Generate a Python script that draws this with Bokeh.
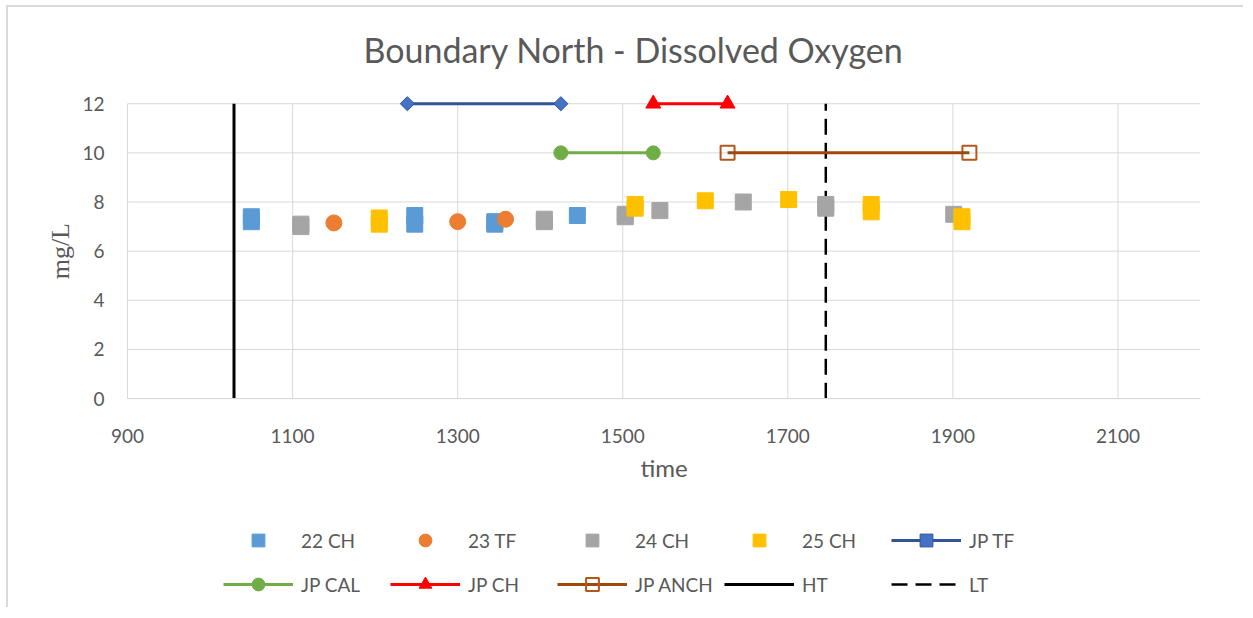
import math
from bokeh.plotting import figure
from bokeh.models import Range1d, FixedTicker, Legend, LegendItem, Label
from bokeh.embed import file_html
from bokeh.resources import INLINE

# ---- data ----
x22 = [1050, 1050, 1248, 1248, 1345, 1345, 1445]
y22 = [7.2, 7.4, 7.1, 7.45, 7.1, 7.2, 7.45]
x23 = [1150, 1300, 1358]
y23 = [7.15, 7.2, 7.3]
x24 = [1110, 1110, 1405, 1405, 1503, 1503, 1545, 1646, 1746, 1746, 1901]
y24 = [7.0, 7.1, 7.2, 7.3, 7.4, 7.5, 7.65, 8.0, 7.75, 7.9, 7.5]
x25 = [1205, 1205, 1515, 1515, 1600, 1701, 1801, 1801, 1911, 1911]
y25 = [7.1, 7.35, 7.75, 7.9, 8.05, 8.1, 7.6, 7.9, 7.2, 7.4]
jp_tf_x = [1239, 1425]
jp_tf_y = [12, 12]
jp_cal_x = [1425, 1537]
jp_cal_y = [10, 10]
jp_ch_x = [1537, 1627]
jp_ch_y = [12, 12]
jp_anch_x = [1627, 1920]
jp_anch_y = [10, 10]
ht_x = [1029, 1029]
ht_y = [0, 12]
lt_x = [1746, 1746]
lt_y = [0, 12]
x_ticks = [900, 1100, 1300, 1500, 1700, 1900, 2100]
y_ticks = [0, 2, 4, 6, 8, 10, 12]
X_MIN, X_MAX = 900, 2200

FONT = "Lato"
GREY = "#595959"
GRID = "#d9d9d9"

# the frame is enlarged (left and below) so that the axes, their labels and
# the legend are drawn inside it; the value area itself is 900..2200 x 0..12
p = figure(width=1237, height=602, output_backend="svg", toolbar_location=None,
           x_range=Range1d(780, X_MAX), y_range=Range1d(-8.58, 12.7),
           min_border_left=20, min_border_right=45, min_border_top=79,
           min_border_bottom=0)
p.styles = {"margin-left": "6px", "margin-top": "5px",
            "border-left": "2px solid #d9d9d9", "border-top": "2px solid #d9d9d9"}
p.outline_line_color = None
p.background_fill_color = "white"
p.border_fill_color = "white"

p.title.text = "Boundary North - Dissolved Oxygen"
p.title.align = "left"
p.title.text_font = FONT
p.title.text_font_size = "34px"
p.title.text_font_style = "normal"
p.title.text_color = GREY
p.title.offset = 335
p.title.standoff = 33

for ax in (p.xaxis[0], p.yaxis[0]):
    ax.major_tick_line_color = None
    ax.minor_tick_line_color = None
    ax.major_tick_out = 0
    ax.major_tick_in = 0
    ax.minor_tick_out = 0
    ax.minor_tick_in = 0
    ax.major_label_text_font = FONT
    ax.major_label_text_font_size = "19px"
    ax.major_label_text_color = GREY

p.xaxis.fixed_location = y_ticks[0]
p.xaxis.bounds = (X_MIN, X_MAX)
p.xaxis.axis_line_color = GRID
p.yaxis.fixed_location = X_MIN
p.yaxis.bounds = (y_ticks[0], y_ticks[-1])
p.yaxis.axis_line_color = None

p.xaxis.ticker = FixedTicker(ticks=x_ticks)
p.yaxis.ticker = FixedTicker(ticks=y_ticks)
p.xaxis.major_label_standoff = 30
p.yaxis.major_label_standoff = 23
p.xaxis.axis_label = "time"
p.xaxis.axis_label_text_font = FONT
p.xaxis.axis_label_text_font_size = "24px"
p.xaxis.axis_label_text_font_style = "normal"
p.xaxis.axis_label_text_color = GREY
p.xaxis.axis_label_standoff = 7

p.add_layout(Label(x=819, y=(y_ticks[0] + y_ticks[-1]) / 2, text="mg/L",
                   angle=math.pi / 2, text_align="center", text_baseline="middle",
                   text_font="Liberation Serif", text_font_size="26px",
                   text_color=GREY))

# grid lines limited to the value area
p.xgrid.grid_line_color = None
p.ygrid.grid_line_color = None
p.segment(x0=x_ticks, y0=[y_ticks[0]] * len(x_ticks),
          x1=x_ticks, y1=[y_ticks[-1]] * len(x_ticks),
          line_color=GRID, line_width=1)
p.segment(x0=[X_MIN] * len(y_ticks), y0=y_ticks,
          x1=[X_MAX] * len(y_ticks), y1=y_ticks,
          line_color=GRID, line_width=1)

# tide lines (beneath markers)
r_ht = p.line(ht_x, ht_y, line_color="black", line_width=3)
r_lt = p.line(lt_x, lt_y, line_color="black", line_width=2.5, line_dash="16 8")

# scatter series
r22 = p.scatter(x22, y22, marker="square", size=16, fill_color="#5B9BD5", line_color="#5B9BD5")
r23 = p.scatter(x23, y23, marker="circle", size=16, fill_color="#ED7D31", line_color="#ED7D31")
r24 = p.scatter(x24, y24, marker="square", size=16, fill_color="#A5A5A5", line_color="#A5A5A5")
r25 = p.scatter(x25, y25, marker="square", size=16, fill_color="#FFC000", line_color="#FFC000")

# JP lines
l_tf = p.line(jp_tf_x, jp_tf_y, line_color="#2F5597", line_width=3)
m_tf = p.scatter(jp_tf_x, jp_tf_y, marker="square", angle=math.pi / 4, size=10,
                 fill_color="#4472C4", line_color="#2F5597")
l_cal = p.line(jp_cal_x, jp_cal_y, line_color="#70AD47", line_width=3)
m_cal = p.scatter(jp_cal_x, jp_cal_y, marker="circle", size=14,
                  fill_color="#70AD47", line_color="#70AD47")
l_ch = p.line(jp_ch_x, jp_ch_y, line_color="#FF0000", line_width=3)
m_ch = p.scatter(jp_ch_x, jp_ch_y, marker="triangle", size=15,
                 fill_color="#FF0000", line_color="#FF0000")
m_anch = p.scatter(jp_anch_x, jp_anch_y, marker="square", size=14,
                   fill_alpha=0, line_color="#B5561A", line_width=2)
l_anch = p.line(jp_anch_x, jp_anch_y, line_color="#9E480E", line_width=3)


def make_legend(items, y):
    lg = Legend(items=items, orientation="horizontal", location=(195, y),
                glyph_width=70, glyph_height=32, label_height=32,
                label_standoff=8, label_width=81, spacing=8,
                padding=0, margin=0, border_line_color=None,
                background_fill_alpha=0,
                label_text_font=FONT, label_text_font_size="19px",
                label_text_color=GREY)
    p.add_layout(lg, "center")


make_legend([
    LegendItem(label="22 CH", renderers=[r22]),
    LegendItem(label="23 TF", renderers=[r23]),
    LegendItem(label="24 CH", renderers=[r24]),
    LegendItem(label="25 CH", renderers=[r25]),
    LegendItem(label="JP TF", renderers=[l_tf, m_tf]),
], 53)
make_legend([
    LegendItem(label="JP CAL", renderers=[l_cal, m_cal]),
    LegendItem(label="JP CH", renderers=[l_ch, m_ch]),
    LegendItem(label="JP ANCH", renderers=[l_anch, m_anch]),
    LegendItem(label="HT", renderers=[r_ht]),
    LegendItem(label="LT", renderers=[r_lt]),
], 9)

open("out.html", "w").write(file_html(p, INLINE))
